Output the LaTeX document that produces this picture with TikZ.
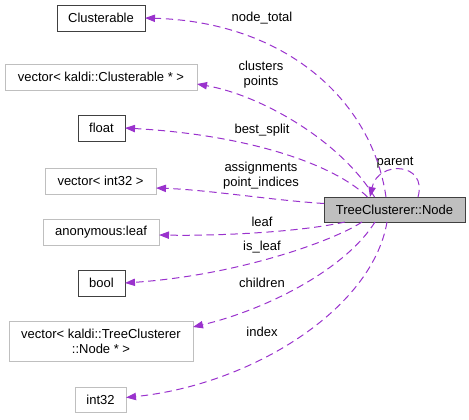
\documentclass[tikz,border=0pt]{standalone}
\usepackage{fontspec}
\setmainfont{Liberation Sans}
\usepackage{tikz}
\usetikzlibrary{arrows.meta,calc}
\usepackage{xcolor}
\definecolor{EdgePurple}{HTML}{9A32CD}
\definecolor{BoxGray}{HTML}{BFBFBF}
\definecolor{BoxDark}{HTML}{404040}

\begin{document}
\begin{tikzpicture}[x=0.75pt,y=-0.75pt,
    font=\fontsize{9.75}{11.25}\selectfont,
    every node/.style={inner sep=0pt,outer sep=0pt},
    cls/.style={draw=BoxDark,fill=white,line width=0.75pt,minimum height=19.5pt},
    ext/.style={draw=BoxGray,fill=white,line width=0.75pt,minimum height=19.5pt},
    mainnode/.style={draw=BoxDark,fill=BoxGray,line width=0.75pt,minimum height=18.75pt,minimum width=105.75pt},
    member/.style={EdgePurple,line width=0.75pt,dash pattern=on 5.5pt off 3.5pt,
      -{Triangle[length=7.5pt,width=5.5pt]}},
    lbl/.style={align=center}]
  \useasboundingbox (0,0) rectangle (469,419);
  % member types
  \node[cls,minimum width=66pt] (clus) at (101,18) {Clusterable};
  \node[ext,minimum width=144pt] (vclus) at (101,77) {vector< kaldi::Clusterable * >};
  \node[cls,minimum width=35.25pt] (flt) at (101.5,128) {float};
  \node[ext,minimum width=83.25pt] (vint) at (100.5,181) {vector< int32 >};
  \node[ext,minimum width=87pt] (anon) at (101,232) {anonymous:leaf};
  \node[cls,minimum width=35.25pt] (bool) at (101.5,283) {bool};
  \node[ext,minimum width=138pt,minimum height=30pt,align=center] (vnode) at (101,341)
    {vector< kaldi::TreeClusterer\\::Node * >};
  \node[ext,minimum width=38.25pt,minimum height=18.75pt] (int) at (100.5,399.5) {int32};
  \node[mainnode] (main) at (394.5,209.5) {TreeClusterer::Node};
  % edge labels
  \node[lbl] (ltotal) at (262,18) {node\_total};
  \node[lbl] (lclus) at (261,75) {clusters\\points};
  \node[lbl] (lsplit) at (262,130) {best\_split};
  \node[lbl] (lassign) at (261,176) {assignments\\point\_indices};
  \node[lbl] (lleaf) at (262,222) {leaf};
  \node[lbl] (lisleaf) at (262,247) {is\_leaf};
  \node[lbl] (lchild) at (262,283) {children};
  \node[lbl] (lindex) at (262,332) {index};
  \node[lbl] (lparent) at (395,163) {parent};
  % collaboration edges
  \draw[member] ($(main.north)+(-8.5,0)$) .. controls (372,100) and (285,22) .. (clus.east);
  \draw[member] ($(main.north)+(-20,0)$) .. controls (340,140) and (260,95) .. ($(vclus.east)+(0,7)$);
  \draw[member] ($(main.north)+(-27,0)$) .. controls (335,165) and (250,135) .. (flt.east);
  \draw[member] ($(main.west)+(0,-6)$) .. controls (270,200) and (210,190) .. ($(vint.east)+(0,7)$);
  \draw[member] ($(main.south)+(-49.5,0)$) .. controls (300,232) and (220,236) .. ($(anon.east)+(0,3)$);
  \draw[member] ($(main.south)+(-32.5,0)$) .. controls (335,240) and (240,275) .. (bool.east);
  \draw[member] ($(main.south)+(-19.5,0)$) .. controls (345,270) and (265,310) .. ($(vnode.east)+(0,-14)$);
  \draw[member] ($(main.south)+(-7.5,0)$) .. controls (372,310) and (250,385) .. ($(int.east)+(0,-2)$);
  \draw[member] ($(main.north)+(23.5,0)$) .. controls (428,162) and (378,160) .. ($(main.north)+(-24.5,0)$);
\end{tikzpicture}
\end{document}
